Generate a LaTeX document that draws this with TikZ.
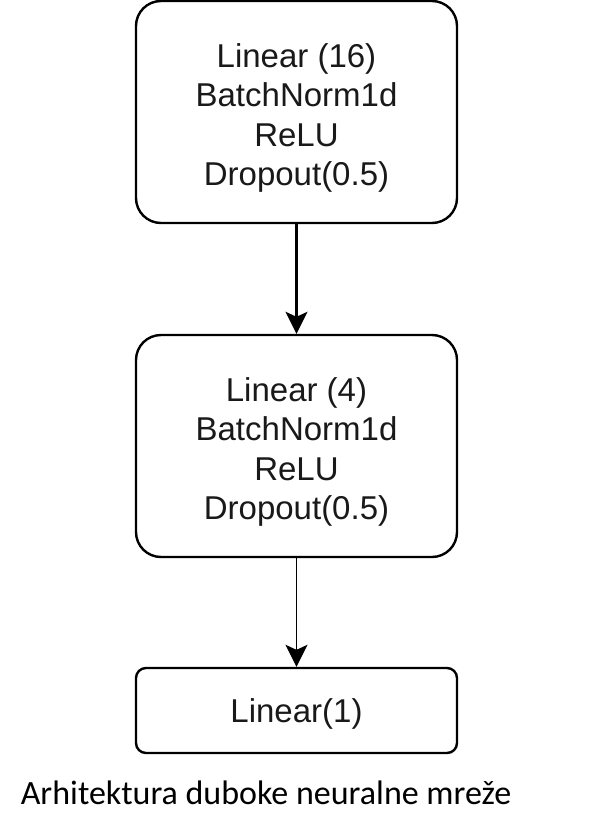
\documentclass[tikz,border=0pt]{standalone}
\usepackage{fontspec}
\setmainfont{Liberation Sans}
\newfontfamily\capfont{Carlito}
\usetikzlibrary{arrows.meta}
\begin{document}
\begin{tikzpicture}[x=1pt,y=-1pt,
  layerbox/.style={draw=black, line width=2.4pt, fill=white, rounded corners=25pt,
    minimum width=321pt, minimum height=222pt, inner sep=0pt},
  outbox/.style={layerbox, minimum height=85pt, rounded corners=10pt},
  boxtext/.style={align=center, inner sep=0pt,
    font=\fontsize{33}{39.5}\selectfont, text=black!90},
  conn/.style={-{Stealth[length=22pt,width=22pt,inset=5pt]}, line width=2.4pt, black},
  conn2/.style={conn, line width=1.7pt}]
\useasboundingbox (0,0) rectangle (594,837);
\node[layerbox] (b1) at (296.5,112) {};
\node[boxtext] (t1) at ([yshift=-6pt]b1.center) {Linear (16)\\BatchNorm1d\\ReLU\\Dropout(0.5)};
\node[layerbox] (b2) at (296.5,446) {};
\node[boxtext] (t2) at ([yshift=-6pt]b2.center) {Linear (4)\\BatchNorm1d\\ReLU\\Dropout(0.5)};
\node[outbox] (b3) at (296.5,710.5) {};
\node[boxtext] (t3) at ([yshift=-3pt]b3.center) {Linear(1)};
\node[font=\capfont\fontsize{34}{40}\selectfont, inner sep=0pt] (cap) at (266,793) {Arhitektura duboke neuralne mreže};
\draw[conn] (b1.south) -- (b2.north);
\draw[conn2] (b2.south) -- (b3.north);
\end{tikzpicture}
\end{document}
